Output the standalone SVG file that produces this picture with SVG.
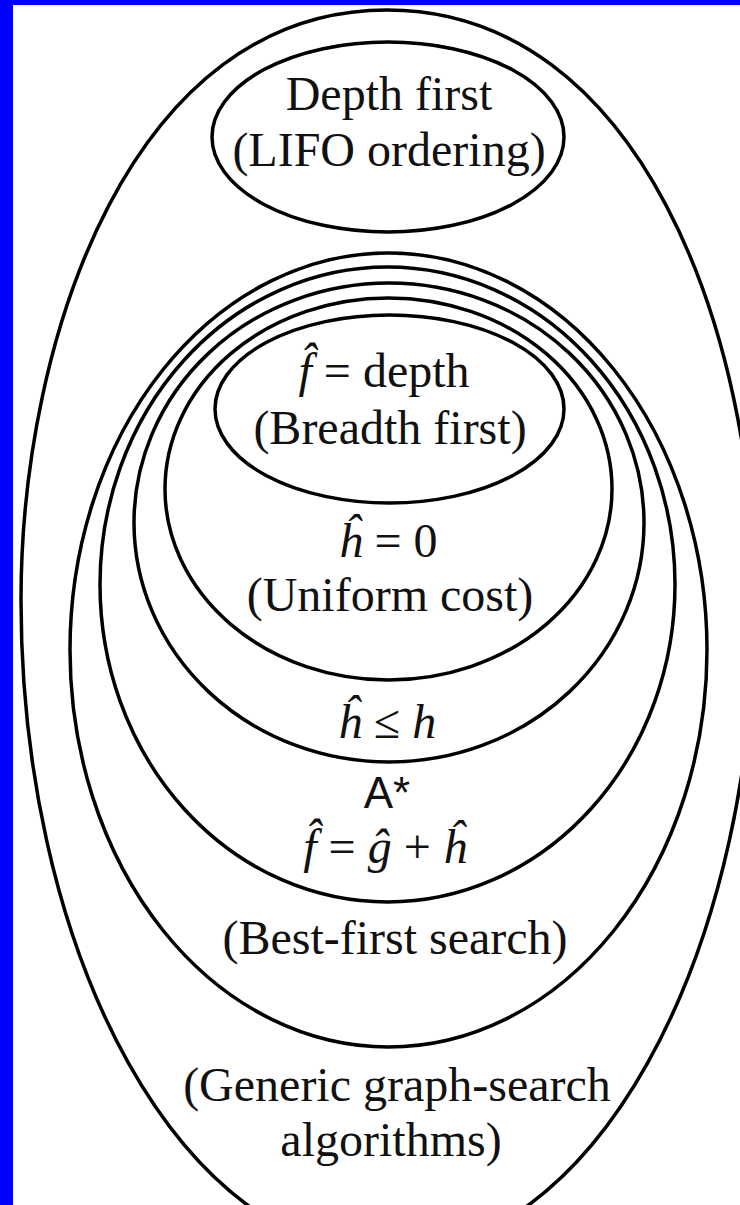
<svg xmlns="http://www.w3.org/2000/svg" width="740" height="1205" viewBox="0 0 740 1205">
  <style>
    .shape { fill: none; stroke: #000; stroke-width: 3.5; }
    .t { font-family: "Liberation Serif", "Times New Roman", serif; font-size: 48px; fill: #111; text-anchor: middle; }
    .m { font-style: italic; }
    .s { font-family: "Liberation Sans", Arial, sans-serif; font-size: 44px; fill: #111; text-anchor: middle; }
  </style>
  <rect x="0" y="0" width="740" height="1205" fill="#fff"/>
  <g id="outer-generic">
    <path class="shape" d="M 21 600 C 21 335 133 10 387 10 C 641 10 755 335 755 600 A 367 655 0 0 1 21 600 Z"/>
    <text class="t" x="397" y="1101">(Generic graph-search</text>
    <text class="t" x="391" y="1156">algorithms)</text>
  </g>
  <g id="depth-first">
    <ellipse class="shape" cx="388" cy="137" rx="176" ry="95"/>
    <text class="t" x="389" y="110">Depth first</text>
    <text class="t" x="389" y="166">(LIFO ordering)</text>
  </g>
  <g id="best-first">
    <ellipse class="shape" cx="388.5" cy="650" rx="318.5" ry="397"/>
    <text class="t" x="395" y="954">(Best-first search)</text>
  </g>
  <g id="a-star">
    <ellipse class="shape" cx="387.5" cy="584.5" rx="287.5" ry="317.5"/>
    <text class="s" x="387" y="808">A*</text>
    <text class="t" x="385" y="863"><tspan class="m">f&#x302;</tspan> = <tspan class="m">&#x11D;</tspan> + <tspan class="m">&#x125;</tspan></text>
  </g>
  <g id="admissible">
    <ellipse class="shape" cx="389" cy="522.5" rx="255" ry="239.5"/>
    <text class="t" x="387" y="738"><tspan class="m">&#x125;</tspan> &#x2264; <tspan class="m">h</tspan></text>
  </g>
  <g id="uniform-cost">
    <ellipse class="shape" cx="388.5" cy="489" rx="223.5" ry="191"/>
    <text class="t" x="388" y="557"><tspan class="m">&#x125;</tspan> = 0</text>
    <text class="t" x="390" y="611">(Uniform cost)</text>
  </g>
  <g id="breadth-first">
    <ellipse class="shape" cx="389.5" cy="409" rx="174.5" ry="94"/>
    <text class="t" x="384" y="387"><tspan class="m">f&#x302;</tspan> = depth</text>
    <text class="t" x="390" y="444">(Breadth first)</text>
  </g>
  <g id="connectors"/>
  <rect x="0" y="0" width="13" height="1205" fill="#00f"/>
  <rect x="0" y="0" width="740" height="5" fill="#00f"/>
</svg>
